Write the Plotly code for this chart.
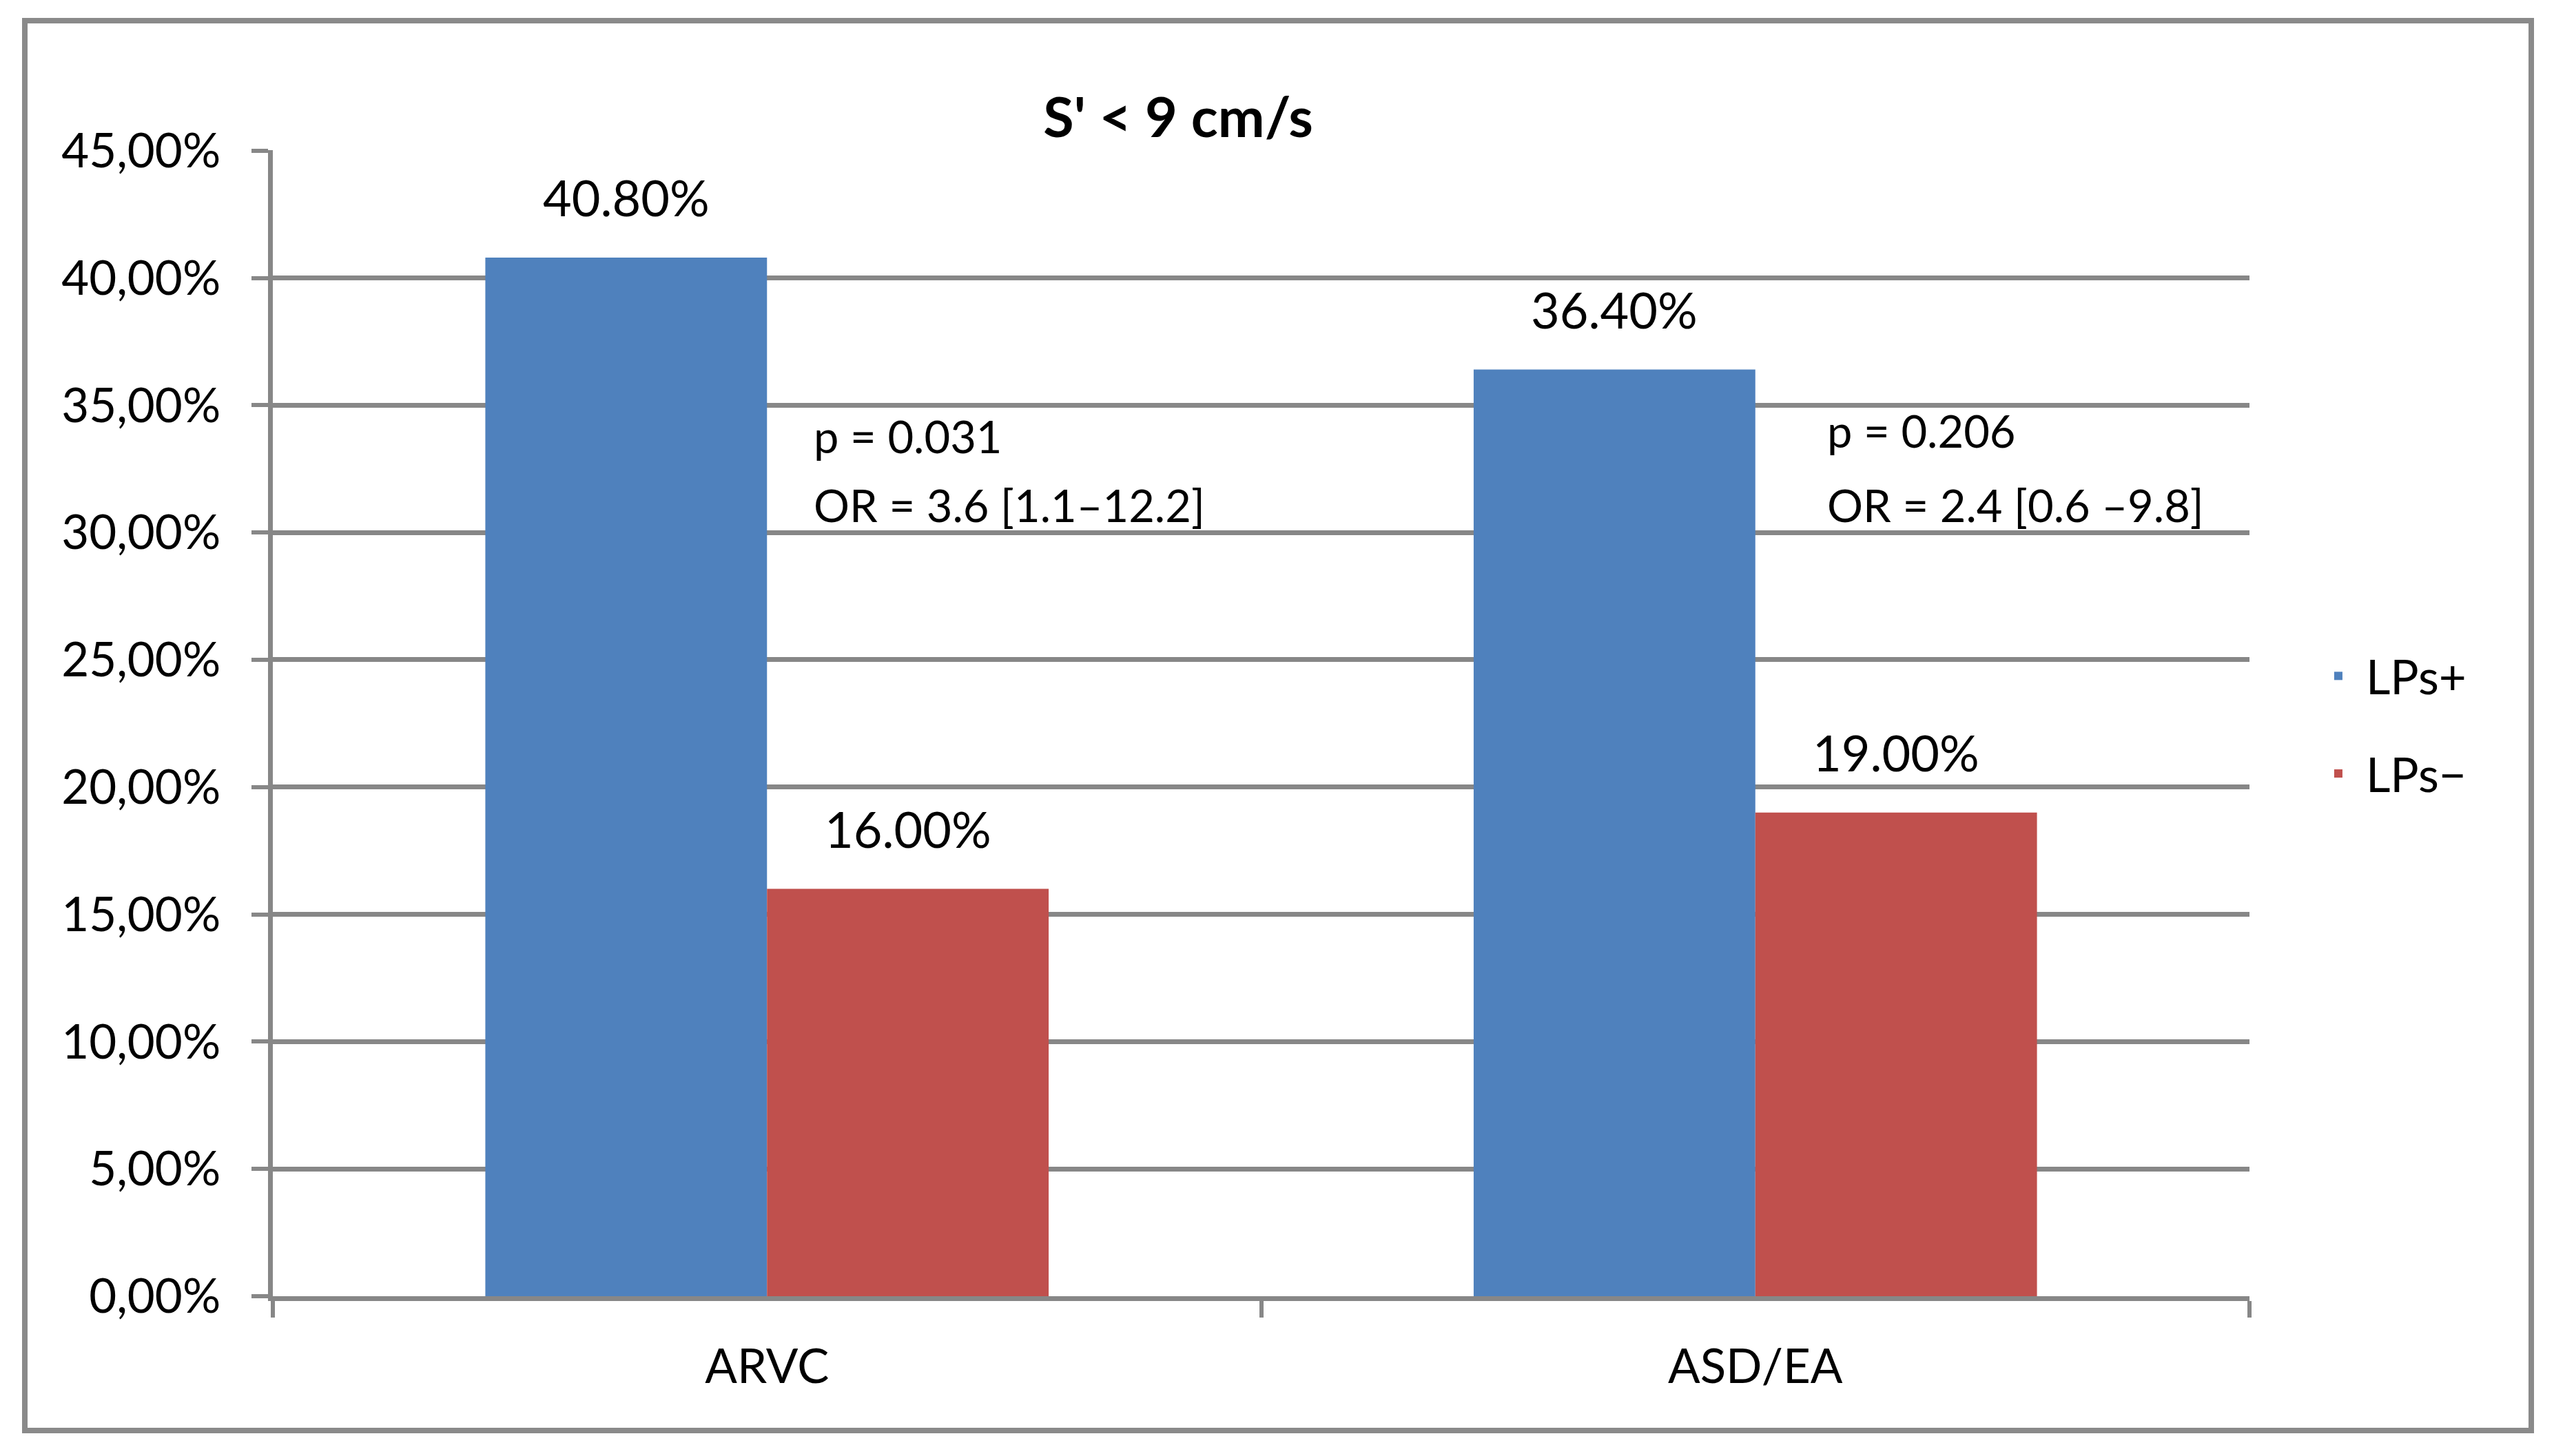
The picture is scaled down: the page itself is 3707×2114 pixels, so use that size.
import plotly.graph_objects as go

# ---- data ----
categories = ["ARVC", "ASD/EA"]
lps_pos = [40.80, 36.40]
lps_neg = [16.00, 19.00]
series_names = ["LPs+", "LPs\u2212"]
p_texts = ["p = 0.031", "p = 0.206"]
or_texts = ["OR = 3.6 [1.1\u201312.2]", "OR = 2.4 [0.6 \u20139.8]"]
title_text = "S' < 9 cm/s"
y_tick_values = [0, 5, 10, 15, 20, 25, 30, 35, 40, 45]
y_tick_text = [f"{v:.2f}".replace(".", ",") + "%" for v in y_tick_values]

# ---- layout constants ----
W, H = 3707, 2114
ML, MR, MT, MB = 396, 442, 218, 232
BARGAP = 0.43
FONT = "Lato"
FS = 69
FS_VAL = 72
FS_STAT = 65
GRID = "#878787"
TXT = "#000000"
BLUE = "#4F81BD"
RED = "#C0504D"
LW = 7

plot_w = W - ML - MR
plot_h = H - MT - MB
cat_px = plot_w / len(categories)
bar_px = cat_px * (1 - BARGAP) / 2

fig = go.Figure()
fig.add_bar(name=series_names[0], x=categories, y=lps_pos, marker_color=BLUE,
            marker_line_width=0, legendgroup="g1")
fig.add_bar(name=series_names[1], x=categories, y=lps_neg, marker_color=RED,
            marker_line_width=0, legendgroup="g2")

annotations = []
# value labels above the bars
for vals, sign in ((lps_pos, -1), (lps_neg, 1)):
    for c, v in zip(categories, vals):
        annotations.append(dict(
            x=c, y=v, xref="x", yref="y", text=f"{v:.2f}%", showarrow=False,
            xshift=sign * bar_px / 2, yshift=88, yanchor="middle", xanchor="center",
            font=dict(family=FONT, size=FS_VAL, color=TXT)))

# statistics text
stat_x = [0.2728, 0.7855]
p_y = [33.8, 34.0]
or_y = [31.1, 31.08]
for i in range(len(categories)):
    annotations.append(dict(x=stat_x[i], y=p_y[i], xref="paper", yref="y",
                            text=p_texts[i], showarrow=False, xanchor="left",
                            yanchor="middle",
                            font=dict(family=FONT, size=FS_STAT, color=TXT)))
    annotations.append(dict(x=stat_x[i], y=or_y[i], xref="paper", yref="y",
                            text=or_texts[i], showarrow=False, xanchor="left",
                            yanchor="middle",
                            font=dict(family=FONT, size=FS_STAT, color=TXT)))

fig.update_layout(
    width=W, height=H,
    margin=dict(l=ML, r=MR, t=MT, b=MB, pad=0),
    paper_bgcolor="white", plot_bgcolor="white",
    barmode="group", bargap=BARGAP, bargroupgap=0,
    font=dict(family=FONT, size=FS, color=TXT),
    title=dict(text=title_text, x=1710 / W, xref="container", xanchor="center",
               y=1 - 171 / H, yref="container", yanchor="middle",
               font=dict(family=FONT, size=81, color=TXT, weight="bold")),
    showlegend=True,
    legend=dict(x=1.031, xanchor="left", y=0.4985, yanchor="middle",
                traceorder="grouped", tracegroupgap=49,
                font=dict(family=FONT, size=FS, color=TXT),
                bgcolor="rgba(0,0,0,0)", itemwidth=70),
    annotations=annotations,
    shapes=[dict(type="rect", xref="paper", yref="paper",
                 x0=(36 - ML) / plot_w, x1=(3674 - ML) / plot_w,
                 y0=(H - MB - 2077) / plot_h, y1=(H - MB - 30) / plot_h,
                 line=dict(color="#8A8A8A", width=8), fillcolor="rgba(0,0,0,0)",
                 layer="below")],
)

fig.update_xaxes(
    type="category", showgrid=False, showline=True, linecolor=GRID, linewidth=LW,
    ticks="outside", tickson="boundaries", ticklen=24, tickwidth=6, tickcolor=GRID,
    ticklabelstandoff=36, tickfont=dict(family=FONT, size=FS, color=TXT),
    zeroline=False,
)
fig.update_yaxes(
    range=[0, 45.02], tickmode="array", tickvals=y_tick_values, ticktext=y_tick_text,
    showgrid=True, gridcolor=GRID, gridwidth=LW,
    showline=True, linecolor=GRID, linewidth=LW,
    ticks="outside", ticklen=24, tickwidth=6, tickcolor=GRID,
    ticklabelstandoff=31, tickfont=dict(family=FONT, size=FS, color=TXT),
    zeroline=False,
)

fig.write_html("out.html", config={"displayModeBar": False},
               post_script="document.body.style.margin='0';document.body.style.padding='0';")
